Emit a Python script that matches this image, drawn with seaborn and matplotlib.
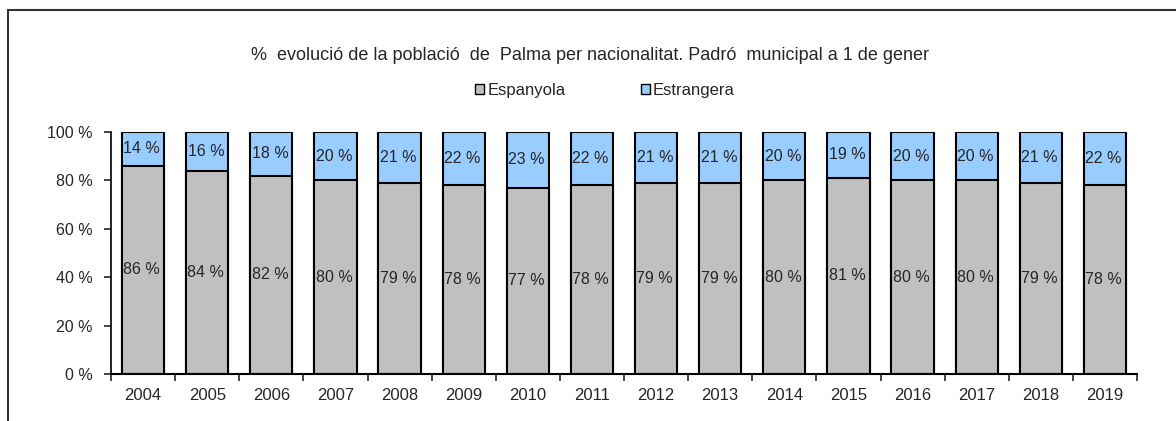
import matplotlib
matplotlib.use("Agg")
import matplotlib.pyplot as plt
import matplotlib.patches as mpatches
import seaborn as sns
import pandas as pd
import numpy as np

anys = ['2004', '2005', '2006', '2007', '2008', '2009', '2010', '2011',
        '2012', '2013', '2014', '2015', '2016', '2017', '2018', '2019']
espanyola = [86, 84, 82, 80, 79, 78, 77, 78, 79, 79, 80, 81, 80, 80, 79, 78]
estrangera = [14, 16, 18, 20, 21, 22, 23, 22, 21, 21, 20, 19, 20, 20, 21, 22]

gris = '#C0C0C0'
blau = '#99CCFF'

df = pd.DataFrame({'Any': anys, 'Espanyola': espanyola, 'Estrangera': estrangera})
df['Total'] = df['Espanyola'] + df['Estrangera']

sns.set_style('white')
plt.rcParams['font.family'] = ['Liberation Sans', 'DejaVu Sans']

fig = plt.figure(figsize=(11.76, 4.21), dpi=100)
ax = fig.add_axes([111/1176, 47/421, (1137-111)/1176, (374-132)/421])

sns.barplot(data=df, x='Any', y='Total', color=blau, width=0.66,
            edgecolor='black', linewidth=1.5, saturation=1, ax=ax)
sns.barplot(data=df, x='Any', y='Espanyola', color=gris, width=0.66,
            edgecolor='black', linewidth=1.5, saturation=1, ax=ax)

# etiquetes
for i, row in df.iterrows():
    ax.text(i - 0.02, row['Espanyola'] / 2, f"{row['Espanyola']} %", ha='center', va='center', fontsize=11.5)
    ax.text(i - 0.02, row['Espanyola'] + row['Estrangera'] / 2, f"{row['Estrangera']} %",
            ha='center', va='center', fontsize=11.5)

ax.set_ylim(0, 100)
ax.set_xlim(-0.5, len(anys) - 0.5)
ax.set_yticks(np.arange(0, 101, 20))
ax.set_yticklabels([f"{v} %" for v in range(0, 101, 20)], fontsize=11.5)
ax.set_xticks(range(len(anys)))
ax.set_xticklabels(anys, fontsize=12)
ax.set_xticks(np.arange(-0.5, len(anys), 1), minor=True)
ax.tick_params(axis='x', which='major', length=0, pad=10)
ax.tick_params(axis='x', which='minor', length=5, width=1.2, direction='out', bottom=True)
ax.tick_params(axis='y', length=5, width=1.2, direction='out', left=True, pad=8)
ax.set_xlabel('')
ax.set_ylabel('')
for s in ['top', 'right']:
    ax.spines[s].set_visible(False)
ax.spines['left'].set_linewidth(1.2)
ax.spines['bottom'].set_linewidth(1.5)
ax.spines['left'].set_color('black')
ax.spines['bottom'].set_color('black')

fig.text(590/1176, 1 - 55/421, '%  evolució de la població  de  Palma per nacionalitat. Padró  municipal a 1 de gener',
         ha='center', va='center', fontsize=13)

handles = [mpatches.Patch(facecolor=gris, edgecolor='black', label='Espanyola'),
           mpatches.Patch(facecolor=blau, edgecolor='black', label='Estrangera')]
fig.legend(handles=handles, loc='center', bbox_to_anchor=(605/1176, 1 - 90/421), ncol=2,
           frameon=False, fontsize=12, handlelength=0.55, handleheight=0.55,
           handletextpad=0.2, columnspacing=4.5)

# marc exterior
fig.add_artist(plt.Line2D([8/1176, 1], [1 - 10/421, 1 - 10/421], color='#333333', lw=1.5))
fig.add_artist(plt.Line2D([8/1176, 8/1176], [0, 1 - 10/421], color='#333333', lw=1.5))

fig.savefig('out.png', dpi=100)
